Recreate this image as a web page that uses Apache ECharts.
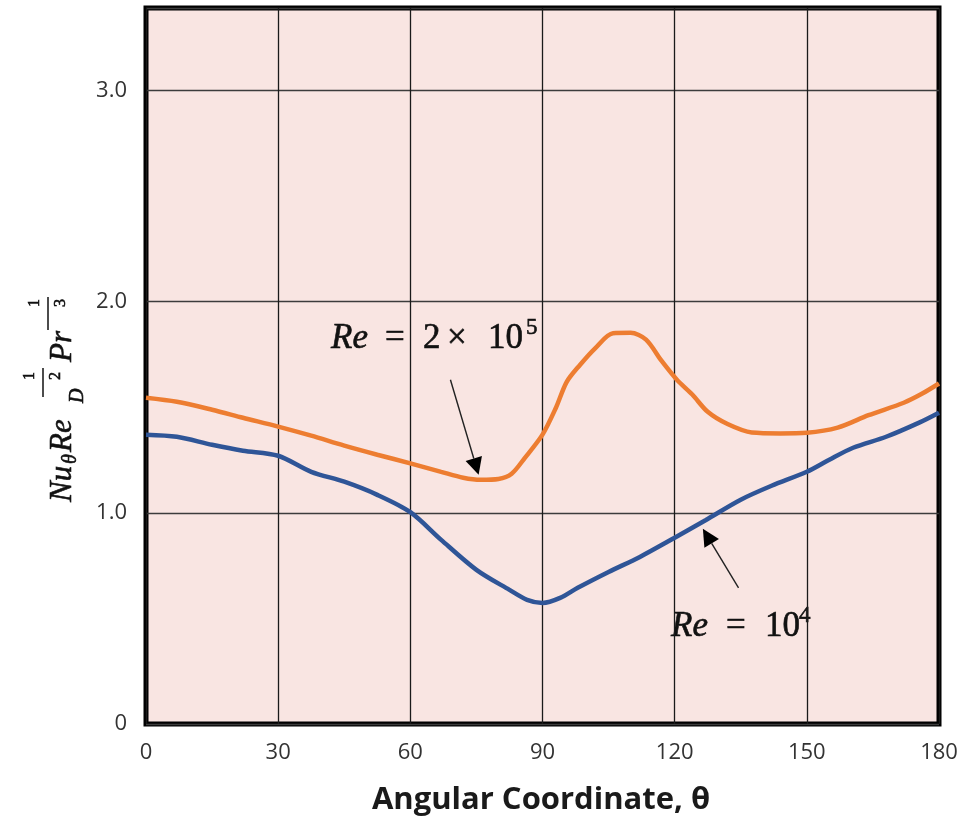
<!DOCTYPE html>
<html>
<head>
<meta charset="utf-8">
<script src="https://cdn.jsdelivr.net/npm/echarts@6.0.0/dist/echarts.min.js"></script>
<style>
  html, body { margin: 0; padding: 0; background: #ffffff; }
  #chart { width: 979px; height: 816px; }
</style>
</head>
<body>
<div id="chart"></div>
<script>
// Local Nusselt number around a cylinder in cross flow, Re = 2×10^5
const thetaHigh = [0, 7, 15, 22, 30, 37.5, 45, 52.5, 60, 67, 72, 76, 80, 83, 86, 90, 93, 95.5, 98.5, 102, 106, 110, 113.5, 117, 120.5, 124, 127.5, 132, 137.5, 144, 150, 157, 164, 172, 176, 180];
const nuHigh    = [1.545, 1.526, 1.488, 1.450, 1.408, 1.365, 1.318, 1.275, 1.234, 1.194, 1.166, 1.156, 1.160, 1.185, 1.260, 1.370, 1.495, 1.620, 1.700, 1.780, 1.850, 1.852, 1.820, 1.720, 1.630, 1.560, 1.478, 1.420, 1.380, 1.376, 1.379, 1.403, 1.462, 1.521, 1.562, 1.612];

// Re = 10^4
const thetaLow = [0, 7, 15, 22, 30, 37.5, 45, 52.5, 60, 67, 75, 82.5, 86.5, 90, 94, 98, 105, 112, 120, 127, 135, 142, 150, 155, 160.5, 168, 175.5, 180];
const nuLow    = [1.370, 1.360, 1.322, 1.294, 1.270, 1.194, 1.147, 1.085, 1.003, 0.872, 0.730, 0.635, 0.588, 0.573, 0.597, 0.645, 0.720, 0.790, 0.882, 0.965, 1.062, 1.128, 1.194, 1.250, 1.308, 1.360, 1.427, 1.474];

const xTicks = [0, 30, 60, 90, 120, 150, 180];
const yTicks = [0, 1, 2, 3];

// Arrow anchors for the two curve labels (data coordinates: [theta, value])
const arrowHigh = { from: [69.1, 1.63], to: [75.5, 1.18] };
const arrowLow  = { from: [134.5, 0.645], to: [126.4, 0.924] };

const SERIF = '"Liberation Serif", "DejaVu Serif", serif';
const INK = '#111111';

function pairs(xs, ys) { return xs.map((x, i) => [x, ys[i]]); }

function txt(text, x, y, size, italic, align) {
  return {
    type: 'text', x: x, y: y, silent: true,
    style: {
      text: text, fill: INK, stroke: INK, lineWidth: 0.6,
      fontFamily: SERIF, fontSize: size,
      fontStyle: italic ? 'italic' : 'normal',
      align: align || 'left', verticalAlign: 'middle'
    }
  };
}
function bar(x1, y1, x2, y2) {
  return { type: 'line', silent: true, shape: { x1: x1, y1: y1, x2: x2, y2: y2 }, style: { stroke: INK, lineWidth: 1.5 } };
}

// Rotated y-axis title: Nu_θ Re_D^(-1/2) Pr^(-1/3); local x runs upward on screen
const yTitle = {
  type: 'group', x: 73, y: 502, rotation: Math.PI / 2, silent: true,
  children: [
    txt('Nu', 0, -10, 31, true),
    txt('θ', 38, -2, 20, true),
    txt('Re', 50, -10, 31, true),
    txt('D', 99, 5, 20, true),
    bar(105, -30, 134, -30),
    txt('1', 126, -43, 16, false, 'center'),
    txt('2', 126, -17, 16, false, 'center'),
    txt('Pr', 140, -10, 31, true),
    bar(172, -25, 205, -25),
    txt('1', 199, -38, 16, false, 'center'),
    txt('3', 199, -12, 16, false, 'center')
  ]
};

// Curve labels
const labelHigh = [
  txt('Re', 331, 339, 35, true),
  txt('=', 385, 339, 35, false),
  txt('2', 423, 339, 35, false),
  txt('×', 447, 339, 35, false),
  txt('10', 488, 339, 35, false),
  txt('5', 526, 328, 23, false)
];
const labelLow = [
  txt('Re', 671, 627, 35, true),
  txt('=', 726, 627, 35, false),
  txt('10', 765, 627, 35, false),
  txt('4', 799, 616, 23, false)
];

const xTitle = {
  type: 'text', x: 541, y: 800, silent: true,
  style: {
    text: 'Angular Coordinate, θ', fill: '#1a1a1a',
    fontFamily: '"Open Sans", sans-serif', fontWeight: 700, fontSize: 31,
    align: 'center', verticalAlign: 'middle'
  }
};

const chart = echarts.init(document.getElementById('chart'), null, { renderer: 'canvas' });

const option = {
  animation: false,
  backgroundColor: '#ffffff',
  grid: {
    left: 146, right: 40, top: 8, bottom: 92,
    show: true, backgroundColor: '#f9e5e2',
    borderColor: '#000000', borderWidth: 5
  },
  xAxis: {
    type: 'value', min: 0, max: 180, interval: 30,
    axisLine: { show: false }, axisTick: { show: false },
    splitLine: { show: true, lineStyle: { color: '#1a1a1a', width: 1.3 } },
    axisLabel: {
      margin: 18, color: '#333333', fontSize: 22, fontFamily: '"Open Sans", sans-serif',
      formatter: v => (xTicks.includes(v) ? String(v) : '')
    }
  },
  yAxis: {
    type: 'value', min: 0, max: 3.39, interval: 1,
    axisLine: { show: false }, axisTick: { show: false },
    splitLine: { show: true, lineStyle: { color: '#3c3c3c', width: 1.3 } },
    axisLabel: {
      margin: 19, color: '#333333', fontSize: 22, fontFamily: '"Open Sans", sans-serif',
      showMaxLabel: false,
      formatter: v => (yTicks.includes(v) ? (v === 0 ? '0' : v.toFixed(1)) : '')
    }
  },
  series: [
    {
      name: 'Re = 2×10^5', type: 'line', data: pairs(thetaHigh, nuHigh),
      symbol: 'none', smooth: 0.3, z: 3,
      lineStyle: { color: '#ed7d31', width: 4.5 }
    },
    {
      name: 'Re = 10^4', type: 'line', data: pairs(thetaLow, nuLow),
      symbol: 'none', smooth: 0.3, z: 3,
      lineStyle: { color: '#2f5597', width: 4.5 }
    }
  ],
  graphic: []
};

chart.setOption(option);

function arrow(a) {
  const p0 = chart.convertToPixel({ gridIndex: 0 }, a.from);
  const p1 = chart.convertToPixel({ gridIndex: 0 }, a.to);
  const dx = p1[0] - p0[0], dy = p1[1] - p0[1];
  const len = Math.hypot(dx, dy);
  const ux = dx / len, uy = dy / len;
  const headLen = 17, headHalf = 8.5;
  const bx = p1[0] - ux * headLen, by = p1[1] - uy * headLen;
  return [
    { type: 'line', silent: true, shape: { x1: p0[0], y1: p0[1], x2: bx, y2: by }, style: { stroke: '#222222', lineWidth: 1.4 } },
    { type: 'polygon', silent: true, shape: { points: [[p1[0], p1[1]], [bx - uy * headHalf, by + ux * headHalf], [bx + uy * headHalf, by - ux * headHalf]] }, style: { fill: '#000000' } }
  ];
}

chart.setOption({
  graphic: [yTitle, xTitle]
    .concat(labelHigh, labelLow)
    .concat(arrow(arrowHigh), arrow(arrowLow))
});
</script>
</body>
</html>
